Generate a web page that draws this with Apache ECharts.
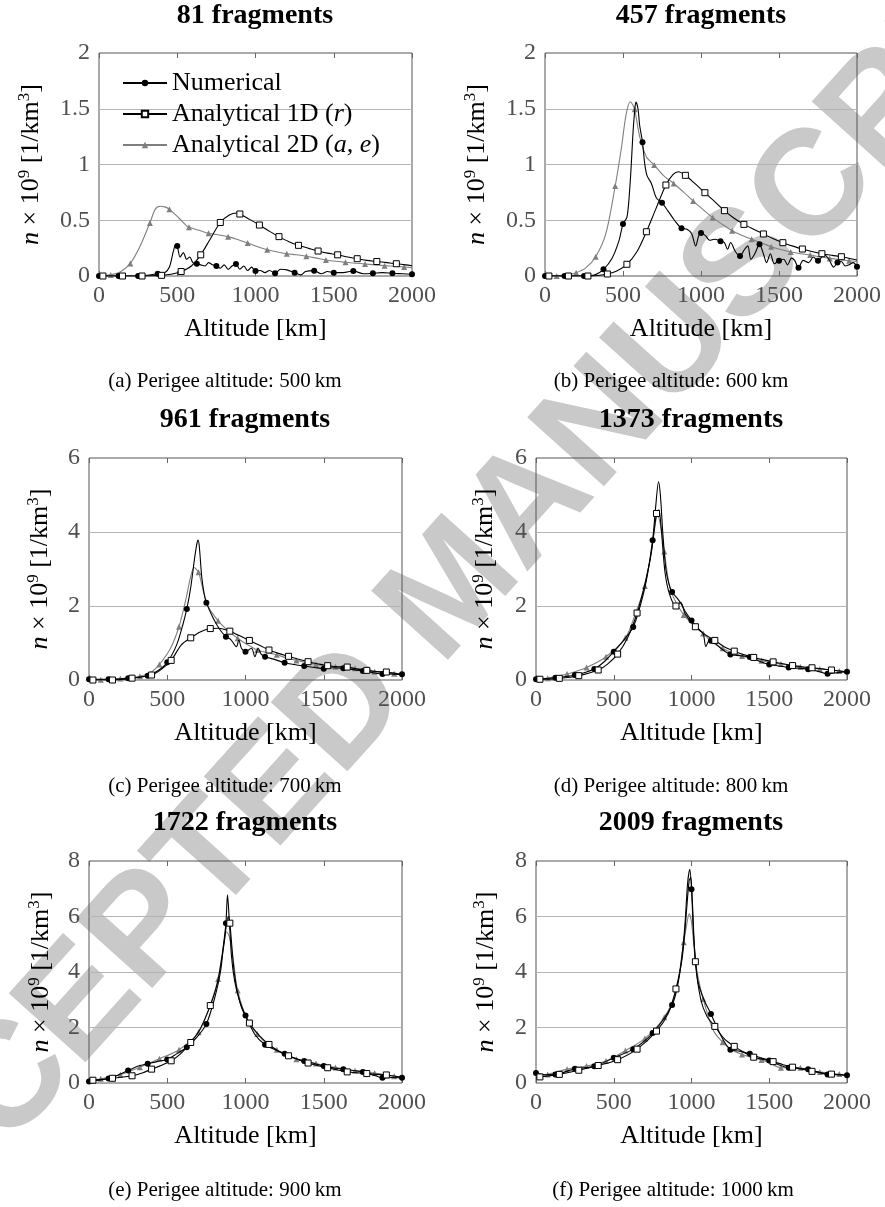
<!DOCTYPE html>
<html>
<head>
<meta charset="utf-8">
<script src="https://cdn.jsdelivr.net/npm/echarts@6/dist/echarts.min.js"></script>
<style>
  html, body { margin: 0; padding: 0; background: #fff; }
  #chart { width: 885px; height: 1207px; }
</style>
</head>
<body>
<div id="chart"></div>
<script>
// density curves, [altitude km, n x 1e9]
const numA = [[0,0],[125,0],[250,0],[375,0.02],[420,0.03],[450,0.08],[475,0.22],[490,0.28],[500,0.27],[518,0.17],[539,0.21],[560,0.15],[580,0.17],[600,0.12],[625,0.11],[650,0.1],[678,0.09],[700,0.12],[725,0.1],[750,0.09],[775,0.07],[800,0.1],[825,0.06],[850,0.09],[875,0.107],[900,0.06],[925,0.09],[950,0.05],[975,0.08],[1000,0.045],[1030,0.05],[1060,0.03],[1090,0.05],[1125,0.025],[1160,0.06],[1200,0.055],[1250,0.03],[1290,0.01],[1320,0.04],[1375,0.048],[1420,0.02],[1460,0.04],[1500,0.03],[1560,0.03],[1625,0.045],[1690,0.02],[1750,0.024],[1810,0.03],[1875,0.024],[1940,0.02],[2000,0.016]];
const r1dA = [[0,0],[25,0],[150,0],[275,0],[400,0.006],[460,0.015],[525,0.04],[590,0.09],[650,0.19],[710,0.33],[775,0.48],[830,0.545],[880,0.565],[900,0.556],[960,0.51],[1025,0.457],[1090,0.4],[1150,0.353],[1210,0.31],[1275,0.275],[1340,0.248],[1400,0.224],[1460,0.205],[1525,0.19],[1590,0.17],[1650,0.155],[1710,0.14],[1775,0.13],[1840,0.12],[1900,0.11],[1960,0.1],[2000,0.092]];
const ae2dA = [[0,0],[75,0.01],[140,0.04],[200,0.113],[260,0.26],[325,0.475],[360,0.6],[390,0.625],[420,0.62],[450,0.598],[510,0.52],[560,0.45],[575,0.437],[640,0.41],[700,0.383],[760,0.37],[825,0.353],[890,0.325],[950,0.296],[1010,0.265],[1075,0.236],[1140,0.215],[1200,0.2],[1260,0.19],[1325,0.177],[1390,0.16],[1450,0.144],[1510,0.132],[1575,0.123],[1640,0.115],[1700,0.108],[1760,0.1],[1825,0.093],[1890,0.087],[1950,0.081],[2000,0.075]];

const numB = [[0,0],[125,0],[250,0],[320,0.01],[375,0.06],[430,0.16],[475,0.32],[500,0.466],[526,0.53],[547,0.86],[564,1.28],[576,1.5],[583,1.56],[596,1.5],[607,1.35],[625,1.2],[639,1.01],[654,0.9],[682,0.83],[714,0.7],[750,0.657],[790,0.58],[830,0.5],[875,0.428],[910,0.42],[940,0.38],[966,0.27],[985,0.36],[1000,0.386],[1030,0.36],[1055,0.32],[1090,0.33],[1125,0.311],[1150,0.3],[1170,0.24],[1190,0.3],[1220,0.22],[1250,0.179],[1280,0.24],[1300,0.27],[1320,0.15],[1345,0.2],[1375,0.284],[1400,0.2],[1420,0.12],[1445,0.2],[1470,0.11],[1500,0.137],[1530,0.15],[1555,0.1],[1580,0.16],[1600,0.14],[1625,0.075],[1655,0.14],[1690,0.12],[1720,0.17],[1750,0.137],[1790,0.19],[1820,0.15],[1850,0.08],[1875,0.12],[1900,0.13],[1925,0.09],[1950,0.1],[1975,0.12],[2000,0.084]];
const r1dB = [[0,0],[25,0],[150,0],[275,0],[340,0.005],[400,0.018],[460,0.045],[525,0.105],[590,0.22],[650,0.397],[710,0.6],[775,0.816],[820,0.91],[855,0.935],[900,0.903],[960,0.83],[1025,0.747],[1090,0.665],[1150,0.586],[1210,0.52],[1275,0.463],[1340,0.417],[1400,0.377],[1460,0.336],[1525,0.299],[1590,0.268],[1650,0.242],[1710,0.22],[1775,0.2],[1840,0.185],[1900,0.173],[1960,0.155],[2000,0.143]];
const ae2dB = [[0,0],[75,0],[140,0.01],[200,0.03],[260,0.07],[325,0.173],[390,0.38],[450,0.807],[490,1.15],[520,1.45],[547,1.563],[565,1.53],[575,1.495],[607,1.25],[650,1.07],[700,0.995],[760,0.9],[825,0.83],[890,0.75],[950,0.672],[1010,0.6],[1075,0.523],[1140,0.46],[1200,0.406],[1260,0.365],[1325,0.329],[1390,0.295],[1450,0.263],[1510,0.237],[1575,0.215],[1640,0.2],[1700,0.188],[1760,0.172],[1825,0.158],[1890,0.147],[1950,0.137],[2000,0.13]];

const numC = [[0,0.02],[125,0.02],[250,0.045],[375,0.117],[440,0.25],[500,0.477],[560,0.95],[600,1.5],[625,1.92],[650,2.5],[675,3.3],[690,3.7],[697,3.78],[705,3.6],[720,2.8],[735,2.35],[750,2.09],[790,1.7],[830,1.4],[875,1.17],[905,1.1],[942,0.9],[957,1.08],[975,0.85],[1000,0.766],[1038,0.86],[1060,0.63],[1081,0.86],[1100,0.7],[1125,0.63],[1190,0.55],[1250,0.468],[1310,0.42],[1375,0.378],[1440,0.34],[1500,0.306],[1560,0.33],[1625,0.315],[1690,0.28],[1750,0.243],[1810,0.2],[1875,0.162],[1940,0.16],[2000,0.153]];
const r1dC = [[0,0],[25,0],[150,0],[275,0.05],[400,0.135],[460,0.28],[525,0.53],[590,0.95],[650,1.14],[710,1.3],[775,1.39],[830,1.4],[900,1.32],[960,1.2],[1025,1.07],[1090,0.94],[1150,0.81],[1210,0.72],[1275,0.64],[1340,0.56],[1400,0.495],[1460,0.44],[1525,0.387],[1590,0.36],[1650,0.35],[1710,0.3],[1775,0.26],[1840,0.23],[1900,0.216],[1960,0.18],[2000,0.15]];
const ae2dC = [[0,0.01],[75,0.01],[200,0.04],[325,0.1],[400,0.22],[450,0.42],[520,0.85],[575,1.44],[620,2.2],[650,2.8],[672,3.04],[700,2.91],[725,2.5],[760,2.0],[825,1.6],[890,1.33],[950,1.13],[1010,0.96],[1075,0.81],[1140,0.74],[1200,0.68],[1260,0.6],[1325,0.53],[1390,0.47],[1450,0.42],[1510,0.38],[1575,0.36],[1640,0.34],[1700,0.315],[1760,0.27],[1825,0.22],[1890,0.19],[1950,0.17],[2000,0.13]];

const numD = [[0,0.02],[125,0.06],[250,0.135],[375,0.3],[440,0.5],[500,0.766],[560,1.05],[625,1.43],[670,2.0],[710,2.7],[750,3.78],[770,4.7],[788,5.36],[800,5.0],[815,4.0],[835,3.0],[855,2.6],[875,2.38],[910,2.2],[935,2.05],[960,1.85],[1000,1.61],[1040,1.4],[1075,1.25],[1092,0.9],[1110,1.05],[1125,1.06],[1190,0.85],[1250,0.69],[1310,0.66],[1375,0.62],[1440,0.5],[1500,0.42],[1560,0.38],[1625,0.34],[1690,0.32],[1750,0.29],[1810,0.24],[1875,0.17],[1940,0.2],[2000,0.225]];
const r1dD = [[0,0.02],[25,0.02],[150,0.045],[275,0.117],[400,0.27],[460,0.43],[525,0.7],[590,1.15],[650,1.81],[700,2.6],[740,3.4],[775,4.5],[790,4.6],[805,4.1],[830,2.9],[860,2.3],[900,2.0],[930,2.1],[960,1.78],[1025,1.44],[1090,1.22],[1150,1.07],[1210,0.9],[1275,0.78],[1340,0.68],[1400,0.61],[1460,0.55],[1525,0.49],[1590,0.44],[1650,0.39],[1710,0.36],[1775,0.33],[1840,0.3],[1900,0.27],[1960,0.24],[2000,0.22]];
const ae2dD = [[0,0.02],[75,0.05],[200,0.16],[325,0.34],[450,0.63],[575,1.14],[640,1.8],[700,2.54],[740,3.4],[770,4.3],[782,4.45],[800,4.2],[825,3.47],[860,2.5],[900,2.1],[950,1.76],[1010,1.5],[1075,1.26],[1140,1.0],[1200,0.86],[1260,0.74],[1325,0.65],[1390,0.58],[1450,0.52],[1510,0.47],[1575,0.43],[1640,0.39],[1700,0.35],[1760,0.32],[1825,0.3],[1890,0.27],[1950,0.24],[2000,0.22]];

const numE = [[0,0.05],[125,0.16],[250,0.45],[310,0.6],[375,0.69],[440,0.78],[500,0.85],[560,1.05],[625,1.29],[690,1.65],[750,2.13],[800,3.0],[840,4.0],[860,5.0],[875,5.76],[885,6.78],[895,6.0],[910,4.6],[930,3.7],[960,3.0],[1000,2.43],[1060,1.75],[1125,1.38],[1190,1.2],[1250,1.05],[1310,0.9],[1375,0.79],[1440,0.7],[1500,0.61],[1560,0.55],[1625,0.5],[1690,0.45],[1750,0.4],[1810,0.3],[1875,0.19],[1940,0.2],[2000,0.19]];
const r1dE = [[0,0.08],[25,0.1],[150,0.17],[275,0.26],[340,0.36],[400,0.5],[460,0.63],[525,0.8],[590,1.08],[650,1.46],[710,1.95],[775,2.79],[820,3.6],[860,4.9],[890,6.0],[900,5.76],[930,3.9],[970,2.8],[1025,2.16],[1090,1.7],[1150,1.39],[1210,1.15],[1275,0.98],[1340,0.84],[1400,0.72],[1460,0.63],[1525,0.55],[1590,0.47],[1650,0.4],[1710,0.37],[1775,0.34],[1840,0.31],[1900,0.29],[1960,0.24],[2000,0.2]];
const ae2dE = [[0,0.08],[75,0.15],[200,0.3],[325,0.57],[450,0.87],[575,1.2],[700,1.83],[780,2.9],[825,3.75],[860,5.0],[880,5.45],[900,5.2],[925,4.3],[950,3.33],[1010,2.3],[1075,1.77],[1140,1.4],[1200,1.2],[1260,1.0],[1325,0.86],[1390,0.77],[1450,0.7],[1510,0.62],[1575,0.56],[1640,0.5],[1700,0.44],[1760,0.4],[1825,0.36],[1890,0.3],[1950,0.24],[2000,0.2]];

const numF = [[0,0.36],[60,0.3],[125,0.31],[250,0.51],[375,0.6],[500,0.91],[625,1.22],[750,1.8],[875,2.81],[920,3.8],[955,5.5],[975,7.2],[989,7.7],[1000,6.98],[1015,5.2],[1040,3.7],[1080,3.0],[1125,2.49],[1190,1.7],[1250,1.2],[1310,1.15],[1375,1.05],[1440,0.92],[1500,0.81],[1560,0.66],[1625,0.55],[1690,0.53],[1750,0.5],[1810,0.4],[1875,0.31],[1940,0.3],[2000,0.28]];
const r1dF = [[0,0.2],[25,0.22],[150,0.31],[275,0.46],[400,0.63],[525,0.84],[650,1.22],[775,1.87],[850,2.5],[900,3.39],[940,4.5],[965,6.0],[985,7.3],[995,7.4],[1005,6.6],[1025,4.37],[1060,3.0],[1100,2.4],[1150,2.04],[1210,1.6],[1275,1.32],[1340,1.1],[1400,0.93],[1460,0.85],[1525,0.77],[1590,0.66],[1650,0.57],[1710,0.5],[1775,0.42],[1840,0.36],[1900,0.32],[1960,0.3],[2000,0.28]];
const ae2dF = [[0,0.25],[75,0.31],[200,0.5],[325,0.61],[450,0.79],[575,1.17],[700,1.6],[825,2.37],[900,3.3],[950,5.07],[975,5.9],[985,6.1],[1000,5.8],[1030,4.2],[1075,3.03],[1140,1.9],[1200,1.47],[1260,1.2],[1325,1.03],[1390,0.92],[1450,0.83],[1510,0.7],[1575,0.55],[1640,0.55],[1700,0.55],[1760,0.45],[1825,0.4],[1890,0.35],[1950,0.32],[2000,0.28]];

const numerical = [numA, numB, numC, numD, numE, numF];
const analytical1d = [r1dA, r1dB, r1dC, r1dD, r1dE, r1dF];
const analytical2d = [ae2dA, ae2dB, ae2dC, ae2dD, ae2dE, ae2dF];

const titles = ['81 fragments', '457 fragments', '961 fragments', '1373 fragments', '1722 fragments', '2009 fragments'];
const captions = ['(a) Perigee altitude: 500\u2009km', '(b) Perigee altitude: 600\u2009km', '(c) Perigee altitude: 700\u2009km',
                  '(d) Perigee altitude: 800\u2009km', '(e) Perigee altitude: 900\u2009km', '(f) Perigee altitude: 1000\u2009km'];
const yMax = [2, 2, 6, 6, 8, 8];
const yStep = [0.5, 0.5, 2, 2, 2, 2];
const xTicks = [0, 500, 1000, 1500, 2000];
const seriesNames = ['Numerical', 'Analytical 1D (r)', 'Analytical 2D (a, e)'];

const FONT = '"Liberation Serif", "DejaVu Serif", serif';

// where each panel sits on the page
const layout = [
  { left: 99,  top: 53,  width: 313, height: 223, yGap: 53, tx: 255, ty: 16,  cx: 225, cy: 381 },
  { left: 545, top: 53,  width: 312, height: 223, yGap: 53, tx: 701, ty: 16,  cx: 671, cy: 381 },
  { left: 89,  top: 458, width: 313, height: 222, yGap: 34, tx: 245, ty: 420, cx: 225, cy: 786 },
  { left: 536, top: 458, width: 311, height: 222, yGap: 36, tx: 691, ty: 420, cx: 671, cy: 786 },
  { left: 89,  top: 861, width: 313, height: 222, yGap: 33, tx: 245, ty: 823, cx: 225, cy: 1190 },
  { left: 536, top: 861, width: 311, height: 222, yGap: 35, tx: 691, ty: 823, cx: 673, cy: 1190 }
];

// markers only every 125 km, each series shifted
function withMarks(pts, offset) {
  return pts.map(p => (p[0] - offset) % 125 === 0 ? { value: p } : { value: p, symbol: 'none' });
}
const plain = v => String(v);

const grids = [], xAxes = [], yAxes = [], series = [], graphics = [];

layout.forEach((g, i) => {
  grids.push({ left: g.left, top: g.top, width: g.width, height: g.height,
    show: true, borderColor: '#555', borderWidth: 1 });

  xAxes.push({
    type: 'value', gridIndex: i, min: xTicks[0], max: xTicks[xTicks.length - 1], interval: xTicks[1] - xTicks[0],
    axisLine: { show: false },
    axisTick: { inside: true, length: 5, lineStyle: { color: '#666' } },
    axisLabel: { fontFamily: FONT, fontSize: 24, color: '#505050', margin: 8, formatter: plain },
    splitLine: { show: false },
    name: 'Altitude [km]', nameLocation: 'middle', nameGap: 40,
    nameTextStyle: { fontFamily: FONT, fontSize: 26, color: '#000' }
  });
  xAxes.push({
    type: 'value', gridIndex: i, position: 'top', min: xTicks[0], max: xTicks[xTicks.length - 1], interval: xTicks[1] - xTicks[0],
    axisLine: { show: false },
    axisTick: { inside: true, length: 5, lineStyle: { color: '#666' } },
    axisLabel: { show: false }, splitLine: { show: false }
  });

  yAxes.push({
    type: 'value', gridIndex: i, min: 0, max: yMax[i], interval: yStep[i],
    axisLine: { show: false }, axisTick: { show: false },
    splitLine: { show: true, showMinLine: false, showMaxLine: false, lineStyle: { color: '#b4b4b4', width: 1 } },
    axisLabel: { fontFamily: FONT, fontSize: 24, color: '#505050', margin: 9, formatter: plain },
    name: '{i|n} × 10{s|9} [1/km{s|3}]', nameLocation: 'middle', nameRotate: 90, nameGap: g.yGap,
    nameTextStyle: {
      fontFamily: FONT, fontSize: 26, color: '#000', lineHeight: 30,
      rich: {
        i: { fontFamily: FONT, fontSize: 26, fontStyle: 'italic', color: '#000', lineHeight: 30 },
        s: { fontFamily: FONT, fontSize: 17, color: '#000', lineHeight: 16, verticalAlign: 'top' }
      }
    }
  });

  const common = { type: 'line', xAxisIndex: i * 2, yAxisIndex: i, smooth: 0.3, showAllSymbol: true,
    symbolSize: 6, animation: false };
  series.push(Object.assign({}, common, {
    name: seriesNames[0], data: withMarks(numerical[i], 0), symbol: 'circle',
    lineStyle: { color: '#000', width: 1.1 }, itemStyle: { color: '#000' }, z: 4 }));
  series.push(Object.assign({}, common, {
    name: seriesNames[1], data: withMarks(analytical1d[i], 25), symbol: 'rect',
    lineStyle: { color: '#000', width: 1.1 }, itemStyle: { color: '#fff', borderColor: '#000', borderWidth: 1 }, z: 5 }));
  series.push(Object.assign({}, common, {
    name: seriesNames[2], data: withMarks(analytical2d[i], 75), symbol: 'triangle',
    lineStyle: { color: '#7f7f7f', width: 1.1 }, itemStyle: { color: '#7f7f7f' }, z: 3 }));

  graphics.push({ type: 'text', x: g.tx, y: g.ty, silent: true,
    style: { text: titles[i], font: 'bold 28px ' + FONT, fill: '#000', textAlign: 'center', textVerticalAlign: 'middle' } });
  graphics.push({ type: 'text', x: g.cx, y: g.cy, silent: true,
    style: { text: captions[i], font: '21px ' + FONT, fill: '#000', textAlign: 'center', textVerticalAlign: 'middle' } });
});

// watermark of the preprint, behind the plots
graphics.push({ type: 'text', x: 455, y: 590, rotation: 48 * Math.PI / 180, z: -10, silent: true,
  style: { text: 'ACCEPTED MANUSCRIPT', font: 'bold 150px "Liberation Sans", Arial, sans-serif', fill: '#c9c9c9',
    textAlign: 'center', textVerticalAlign: 'middle' } });

const chart = echarts.init(document.getElementById('chart'), null, { renderer: 'canvas' });
chart.setOption({
  backgroundColor: '#fff',
  animation: false,
  grid: grids,
  xAxis: xAxes,
  yAxis: yAxes,
  legend: {
    data: seriesNames, orient: 'vertical', left: 117, top: 65,
    itemWidth: 44, itemHeight: 8, itemGap: 5, selectedMode: false,
    textStyle: { fontFamily: FONT, fontSize: 26, color: '#000',
      rich: { i: { fontFamily: FONT, fontSize: 26, fontStyle: 'italic', color: '#000' } } },
    formatter: name => name.replace('(r)', '({i|r})').replace('(a, e)', '({i|a, e})')
  },
  graphic: graphics,
  series: series
});
</script>
</body>
</html>
